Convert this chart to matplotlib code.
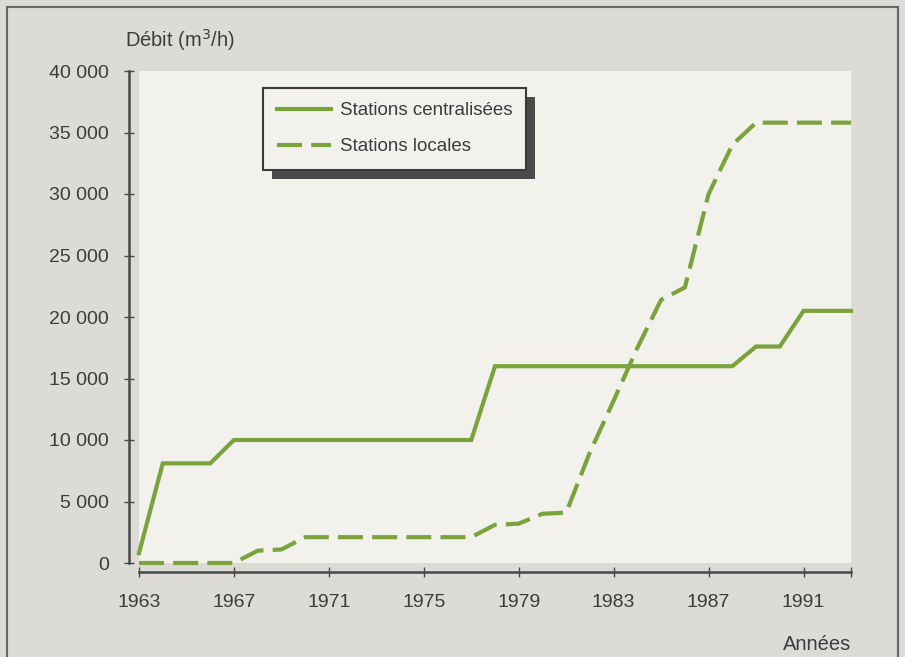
import matplotlib
matplotlib.use("Agg")
import matplotlib.pyplot as plt
from matplotlib.patches import Rectangle

plt.rcParams['font.family'] = ['Liberation Sans', 'DejaVu Sans']

# Data
years_central = [1963, 1964, 1966, 1967, 1977, 1978, 1988, 1989, 1990, 1991, 1993]
debit_central = [800, 8100, 8100, 10000, 10000, 16000, 16000, 17600, 17600, 20500, 20500]

years_local = [1963, 1967, 1968, 1969, 1970, 1977, 1978, 1979, 1980, 1981, 1982,
               1983, 1984, 1985, 1986, 1987, 1988, 1989, 1993]
debit_local = [0, 0, 1000, 1100, 2100, 2100, 3100, 3200, 4000, 4100, 9000,
               13200, 17500, 21400, 22400, 30000, 34000, 35800, 35800]

x_ticks = [1963, 1967, 1971, 1975, 1979, 1983, 1987, 1991, 1993]
x_ticklabels = ['1963', '1967', '1971', '1975', '1979', '1983', '1987', '1991', '']
y_ticks = [0, 5000, 10000, 15000, 20000, 25000, 30000, 35000, 40000]
y_ticklabels = ['0', '5 000', '10 000', '15 000', '20 000', '25 000', '30 000', '35 000', '40 000']

label_central = 'Stations centralisées'
label_local = 'Stations locales'

W, H = 905, 657
green = '#7ba33c'
txt = '#3c3c3c'
axis_col = '#484848'

fig = plt.figure(figsize=(W / 100, H / 100), dpi=100)
fig.patch.set_facecolor('#dcdbd6')

# outer frame
fig.add_artist(Rectangle((7 / W, -0.02), (891) / W, 1.02 - 7 / H, transform=fig.transFigure,
                         fill=False, edgecolor='#666666', linewidth=1.5))

ax = fig.add_axes([139 / W, (H - 563) / H, 712 / W, 492 / H])
ax.set_facecolor('#f2f1ec')
ax.set_xlim(1963, 1993)
ax.set_ylim(0, 40000)

ax.plot(years_central, debit_central, color=green, linewidth=3.0, solid_joinstyle='miter',
        label=label_central, clip_on=False, zorder=3)
ax.plot(years_local, debit_local, color=green, linewidth=3.0, linestyle=(0, (6, 2.2)),
        label=label_local, clip_on=False, zorder=3)

for s in ['top', 'right']:
    ax.spines[s].set_visible(False)
ax.spines['left'].set_position(('outward', 7.2))
ax.spines['bottom'].set_position(('outward', 6.8))
ax.spines['left'].set_bounds(0, 40000)
ax.spines['bottom'].set_bounds(1963, 1993)
for s in ['left', 'bottom']:
    ax.spines[s].set_color(axis_col)
    ax.spines[s].set_linewidth(1.8)

ax.set_xticks(x_ticks)
ax.set_xticklabels(x_ticklabels)
ax.set_yticks(y_ticks)
ax.set_yticklabels(y_ticklabels)
ax.tick_params(axis='both', direction='inout', length=7, width=1.0, color=axis_col,
               labelsize=14, labelcolor=txt)
ax.tick_params(axis='y', pad=11)
ax.tick_params(axis='x', pad=12)

fig.text(125 / W, 1 - 40 / H, 'Débit (m$^3$/h)', fontsize=14.5, color=txt,
         ha='left', va='center')
fig.text(851 / W, 1 - 645 / H, 'Années', fontsize=14.5, color=txt,
         ha='right', va='center')

leg = ax.legend(loc='upper left', bbox_to_anchor=(263 / W, 1 - 88 / H),
                bbox_transform=fig.transFigure, fontsize=13.5, frameon=True,
                fancybox=False, handlelength=2.9, handletextpad=0.45,
                borderpad=0.75, labelspacing=1.02, borderaxespad=0)
fr = leg.get_frame()
fr.set_facecolor('#f2f1ec')
fr.set_edgecolor('#3a3a3a')
fr.set_linewidth(1.5)
fr.set_alpha(1)
for t in leg.get_texts():
    t.set_color(txt)
leg.set_zorder(6)

fig.canvas.draw()
bb = leg.get_window_extent()
shadow = Rectangle(((bb.x0 + 9) / W, (bb.y0 - 9) / H), bb.width / W, bb.height / H,
                   transform=fig.transFigure, facecolor='#4a4a4a', edgecolor='none',
                   zorder=5, clip_on=False)
ax.add_artist(shadow)

fig.savefig('out.png', dpi=100, facecolor=fig.get_facecolor())
